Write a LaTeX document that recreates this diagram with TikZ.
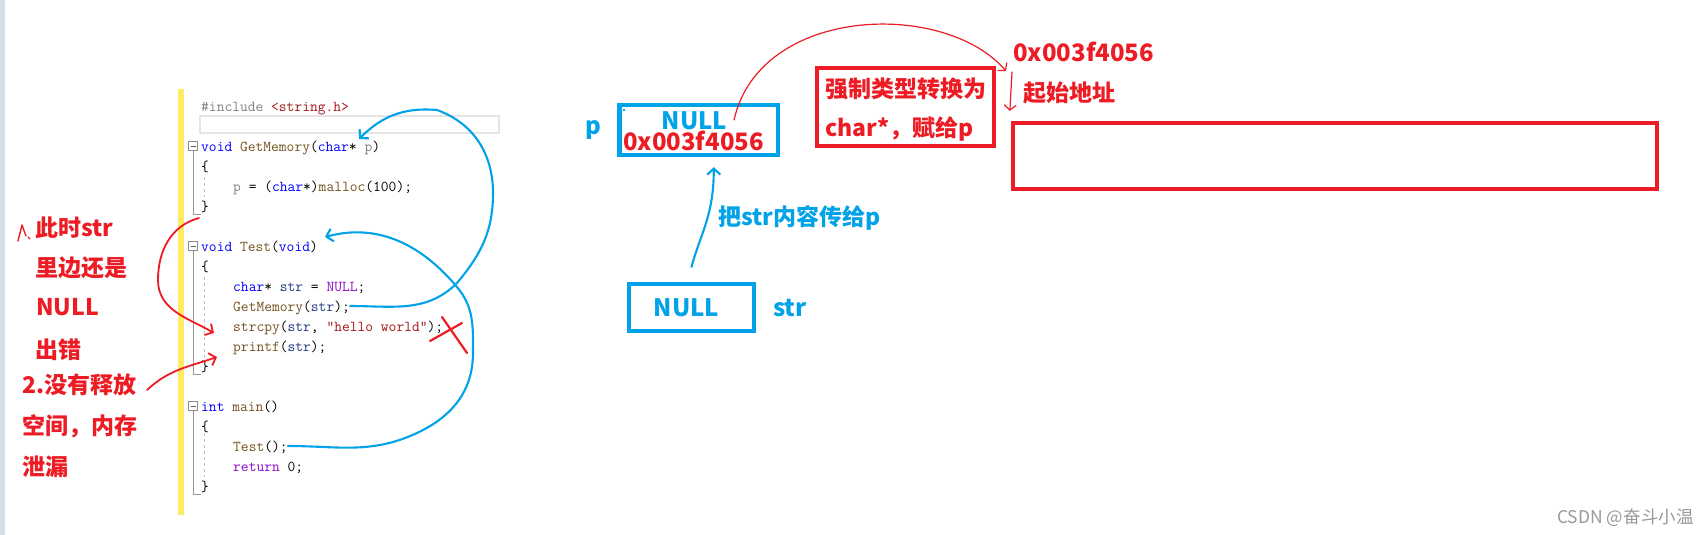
\documentclass[tikz,border=0pt]{standalone}
\usepackage{fontspec}
\usepackage{tikz}
\usetikzlibrary{arrows.meta}

\newfontfamily\cjk{Noto Sans CJK SC}
\newcommand\codefont{\ttfamily}

\definecolor{pblue}{RGB}{0,162,232}
\definecolor{pred}{RGB}{237,28,36}
\definecolor{kwblue}{RGB}{0,0,255}
\definecolor{fnbrown}{RGB}{116,83,31}
\definecolor{strred}{RGB}{163,21,21}
\definecolor{vardark}{RGB}{31,55,127}
\definecolor{macpurple}{RGB}{143,8,196}
\definecolor{ppgray}{RGB}{128,128,128}
\definecolor{baryellow}{RGB}{255,236,98}
\definecolor{stripgray}{RGB}{214,221,233}

\newcommand\ckw[1]{\textcolor{kwblue}{#1}}
\newcommand\cfn[1]{\textcolor{fnbrown}{#1}}
\newcommand\cstr[1]{\textcolor{strred}{#1}}
\newcommand\cvar[1]{\textcolor{vardark}{#1}}
\newcommand\cmac[1]{\textcolor{macpurple}{#1}}
\newcommand\cgray[1]{\textcolor{ppgray}{#1}}
\newcommand\notefont{\cjk\bfseries\fontsize{23}{28}\selectfont}
\newcommand\valfont{\cjk\bfseries\fontsize{24}{29}\selectfont}

\begin{document}
\begin{tikzpicture}[
    x=1pt, y=-1pt,
    >={Straight Barb[length=6pt,width=13pt]},
    code/.style={anchor=west, inner sep=0pt, font=\codefont\fontsize{15.1}{18}\selectfont,
        text height=10.5pt, text depth=0.5pt},
    note/.style={inner sep=0pt, text=pred, font=\notefont, text height=20pt, text depth=3pt},
    val/.style={inner sep=0pt, font=\valfont, text height=20.9pt, text depth=3.1pt},
    bluebox/.style={draw=pblue, line width=4.3pt, inner sep=0pt},
    redbox/.style={draw=pred, line width=4.3pt, inner sep=0pt},
    bluepen/.style={draw=pblue, line width=2.1pt, line cap=round, line join=round},
    redpen/.style={draw=pred, line width=1.8pt, line cap=round, line join=round},
    redthin/.style={draw=pred, line width=1.2pt, line cap=round,
        >={Straight Barb[length=5pt,width=12pt]}},
    fold/.style={draw=black!45, line width=0.8pt, minimum size=9pt, inner sep=0pt,
        path picture={\draw[black!65, line width=0.8pt]
            ([xshift=2pt]path picture bounding box.west) --
            ([xshift=-2pt]path picture bounding box.east);}},
    foldline/.style={draw=black!40, line width=0.9pt},
    guide/.style={draw=black!25, line width=0.8pt, dash pattern=on 3pt off 3pt}
    ]
    \useasboundingbox (0,0) rectangle (1708,535);
    \fill[white] (0,0) rectangle (1708,535);
    \fill[stripgray] (0,0) rectangle (5,535);
    \fill[baryellow] (178,89) rectangle (184,515);

    % code
    \node[code] (inc) at (201,106) {\cgray{\#include} \cstr{<string.h>}};
    \node[draw=black!10, line width=1.8pt, anchor=west, minimum width=299pt,
        minimum height=17pt, inner sep=0pt] (curline) at (199,124.5) {};
    \node[code] (defget) at (201,146) {\ckw{void} \cfn{GetMemory}(\ckw{char}* \cgray{p})};
    \node[code] (getopen) at (201,166) {\{};
    \node[code] (getbody) at (233,186) {\cgray{p} = (\ckw{char}*)\cfn{malloc}(100);};
    \node[code] (getclose) at (201,206) {\}};
    \node[code] (deftest) at (201,246) {\ckw{void} \cfn{Test}(\ckw{void})};
    \node[code] (testopen) at (201,266) {\{};
    \node[code] (decl) at (233,286) {\ckw{char}* \cvar{str} = \cmac{NULL};};
    \node[code] (callget) at (233,306) {\cfn{GetMemory}(\cvar{str});};
    \node[code] (cpy) at (233,326) {\cfn{strcpy}(\cvar{str}, \cstr{"hello world"});};
    \node[code] (prt) at (233,346) {\cfn{printf}(\cvar{str});};
    \node[code] (testclose) at (201,366) {\}};
    \node[code] (defmain) at (201,406) {\ckw{int} \cfn{main}()};
    \node[code] (mainopen) at (201,426) {\{};
    \node[code] (calltest) at (233,446) {\cfn{Test}();};
    \node[code] (ret) at (233,466) {\cmac{return} 0;};
    \node[code] (mainclose) at (201,486) {\}};

    \node[fold] (fold1) at (193,146) {};
    \node[fold] (fold2) at (193,246) {};
    \node[fold] (fold3) at (193,406) {};
    \draw[foldline] (fold1.south) |- ([yshift=-8pt]getclose.west);
    \draw[foldline] (fold2.south) |- ([yshift=-8pt]testclose.west);
    \draw[foldline] (fold3.south) |- ([yshift=-8pt]mainclose.west);
    \draw[guide] (204,177) -- (204,197);
    \draw[guide] (204,277) -- (204,358);
    \draw[guide] (204,433) -- (204,477);

    % left notes
    \node[note, anchor=west] (n1) at (35,227.5) {此时str};
    \node[note, anchor=west] (n2) at (35,268) {里边还是};
    \node[note, anchor=west] (n3) at (36,307) {NULL};
    \node[note, anchor=west] (n4) at (35,350) {出错};
    \node[note, anchor=west] (n5) at (22,385) {2.没有释放};
    \node[note, anchor=west] (n6) at (22,426) {空间，内存};
    \node[note, anchor=west] (n7) at (22,467) {泄漏};

    \coordinate (getend) at (199,218);
    \coordinate (cpytip) at (214,333);
    \coordinate (leakstart) at (147,390);
    \coordinate (prttip) at (217,357);
    \coordinate (gmtip) at (359,139);
    \coordinate (testtip) at (325,237);
    \draw[redpen, line width=1.4pt] (18,241) -- (22,225) -- (26,236) (28,237) -- (30,239);
    \draw[redpen,->] (getend) to[out=195,in=90] (158,280) to[out=-90,in=150] (cpytip);
    \draw[redpen,->] (leakstart) to[out=43,in=199] (prttip);
    \draw[redpen, line width=2.2pt] (430,341) -- (462,323) (442,317) -- (467,353);
    \draw[bluepen,->] (callget.east) to[out=0,in=225] (457,283) to[out=50,in=270] (493,193)
        to[out=90,in=-20] (437,110) to[out=175,in=45] (gmtip);
    \draw[bluepen,->] (calltest.east) to[out=0,in=205] (417,433) to[out=25,in=-90] (473,353)
        to[out=90,in=-50] (457,287) to[out=130,in=15] (testtip);

    % memory
    \node[bluebox, minimum width=158.5pt, minimum height=50pt] (pbox) at (698.75,130) {};
    \node[val, text=pblue] (pnull) at (694.5,121) {NULL};
    \node[val, text=pred] (paddr) at (693.5,141.7) {0x003f4056};
    \fill[pblue] (623,109) rectangle (625,111);
    \node[val, text=pblue, anchor=west] (plabel) at (585,126) {p};
    \node[bluebox, minimum width=125pt, minimum height=47pt] (strbox) at (691.5,307.5) {};
    \node[val, text=pblue] (strnull) at (686.5,308) {NULL};
    \node[val, text=pblue, anchor=west] (strlabel) at (773,308) {str};
    \node[note, text=pblue, anchor=west] (passnote) at (718,217) {把str内容传给p};
    \draw[bluepen,->] ([yshift=15pt]strbox.north) .. controls (700,235) and (714,215) ..
        ([shift={(15pt,-10pt)}]pbox.south);

    \node[redbox, minimum width=177pt, minimum height=78pt] (castbox) at (905.5,107) {};
    \node[note, anchor=west] (cast1) at (825,89) {强制类型转换为};
    \node[note, anchor=west] (cast2) at (825,128) {char*，赋给p};
    \node[redbox, minimum width=644pt, minimum height=66pt] (heap) at (1335,156) {};
    \node[val, text=pred, anchor=west] (haddr) at (1013,52.5) {0x003f4056};
    \node[note, anchor=west] (hstart) at (1023,93.3) {起始地址};
    \coordinate (castfrom) at (734,120);
    \coordinate (heaptip) at (1006,71);
    \coordinate (addrtop) at (1012,72);
    \draw[redthin,->] (castfrom) .. controls (760,5) and (945,0) .. (heaptip);
    \draw[redthin,->] (addrtop) -- ([xshift=-1pt,yshift=10pt]heap.north west);

    \node[anchor=west, inner sep=0pt, font=\cjk\fontsize{17.5}{20}\selectfont, text=black!40,
        text height=15pt, text depth=2.5pt] (mark) at (1557,517.5) {CSDN @奋斗小温};
\end{tikzpicture}
\end{document}
